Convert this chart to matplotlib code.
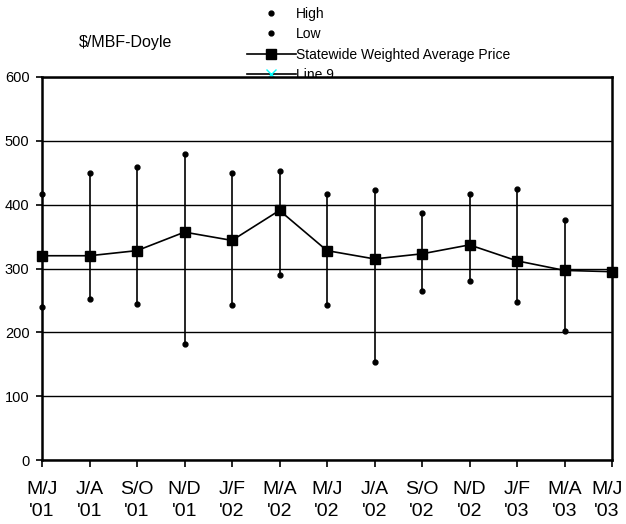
import numpy as np
import matplotlib
matplotlib.use('Agg')
import matplotlib.pyplot as plt
import matplotlib.transforms as mtransforms

plt.rcParams['font.family'] = ['Liberation Sans', 'DejaVu Sans']

periods = ["M/J\n'01", "J/A\n'01", "S/O\n'01", "N/D\n'01", "J/F\n'02", "M/A\n'02", "M/J\n'02",
           "J/A\n'02", "S/O\n'02", "N/D\n'02", "J/F\n'03", "M/A\n'03", "M/J\n'03"]
high = [416, 449, 459, 479, 449, 452, 416, 423, 387, 416, 425, 376, np.nan]
low = [240, 252, 245, 182, 243, 290, 243, 153, 265, 281, 248, 202, np.nan]
avg_price = [320, 320, 328, 357, 344, 391, 328, 315, 323, 337, 312, 297, 295]

x = np.arange(len(periods))
high = np.array(high)
low = np.array(low)

fig = plt.figure(figsize=(6.26, 5.24), dpi=100)
ax = fig.add_axes([42/626, 1 - 460/524, 570/626, 383/524])

# high-low lines
ax.vlines(x, low, high, color='black', lw=1.2, zorder=2)
h1, = ax.plot(x, high, 'o', color='black', ms=3.5, label='High', zorder=3, clip_on=False)
h2, = ax.plot(x, low, 'o', color='black', ms=3.5, label='Low', zorder=3, clip_on=False)
h3, = ax.plot(x, avg_price, '-s', color='black', ms=7, lw=1.2,
              label='Statewide Weighted Average Price', zorder=4, clip_on=False)
h4, = ax.plot([], [], '-x', color='black', mec='cyan', ms=7, lw=1.2, label='Line 9')

ax.set_xlim(0, len(periods) - 1)
ax.set_ylim(0, 600)
ax.set_yticks(np.arange(0, 601, 100))
ax.set_xticks(x)
ax.set_xticklabels(periods, fontsize=14, linespacing=1.4)
ax.tick_params(axis='y', labelsize=10.5, direction='out', length=4, width=1.2, pad=5)
ax.tick_params(axis='x', direction='out', length=5, width=1.2, pad=10)
ax.yaxis.grid(True, color='black', lw=1)
ax.set_axisbelow(True)
for s in ax.spines.values():
    s.set_linewidth(1.8)

# last label nudged left so it stays inside the figure
lbl = ax.get_xticklabels()[-1]
lbl.set_transform(lbl.get_transform() + mtransforms.ScaledTranslation(-5/100, 0, fig.dpi_scale_trans))

fig.text(126/626, 1 - 42/524, '$/MBF-Doyle', fontsize=11.5, ha='center', va='center')

leg = fig.legend(handles=[h1, h2, h3, h4], loc='upper left', bbox_to_anchor=(247/626, 1 - 7/524),
                 frameon=False, fontsize=10, handlelength=3.5, handletextpad=0.0,
                 borderpad=0, borderaxespad=0, labelspacing=0.45)
leg.set_zorder(-1)

fig.savefig('out.png', dpi=100)
